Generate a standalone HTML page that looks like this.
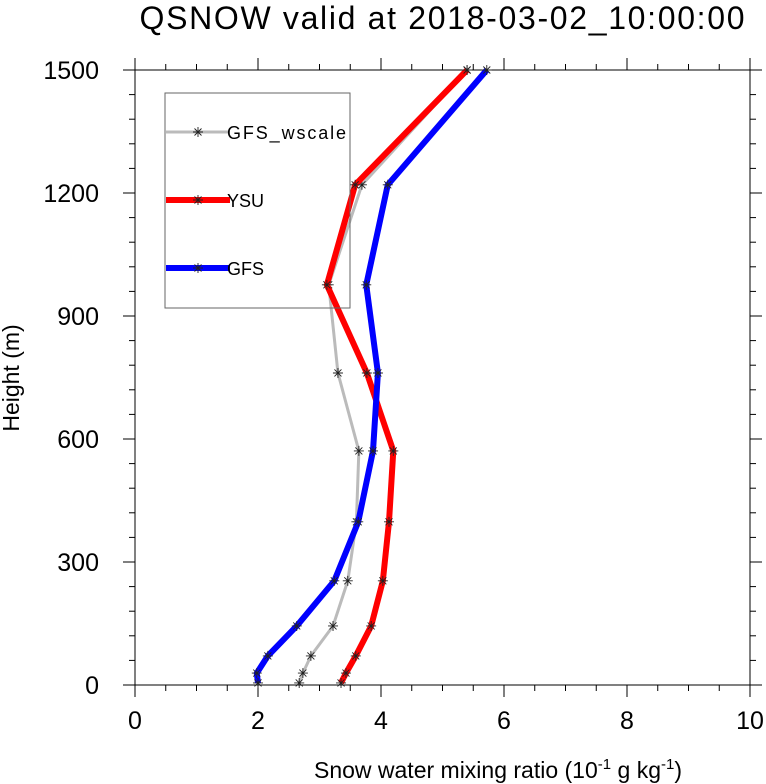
<!DOCTYPE html>
<html><head><meta charset="utf-8"><style>body{margin:0;background:#fff}svg{display:block;font-family:"Liberation Sans",sans-serif}</style></head>
<body>
<svg id="c" width="766" height="784"></svg>
<script>
const heights=[5,29,71,144,254,398,571,761,976,1220,1500];
const gfsWscale=[2.67,2.73,2.86,3.22,3.46,3.60,3.64,3.30,3.15,3.69,5.40];
const ysu=[3.35,3.43,3.59,3.84,4.03,4.13,4.20,3.77,3.12,3.58,5.40];
const gfs=[2.0,1.98,2.16,2.63,3.24,3.63,3.87,3.95,3.76,4.11,5.72];
const xTicks=[0,2,4,6,8,10];
const yTicks=[0,300,600,900,1200,1500];
const NS="http://www.w3.org/2000/svg",svg=document.getElementById('c');
const X0=135,X1=750,Y0=685,Y1=70;
const sx=v=>X0+(X1-X0)*v/10, sy=v=>Y0-(Y0-Y1)*v/1500;
function el(t,a,p){const e=document.createElementNS(NS,t);for(const k in a)e.setAttribute(k,a[k]);(p||svg).appendChild(e);return e;}
const frame=el('rect',{x:X0,y:Y1,width:X1-X0,height:Y0-Y1,fill:'none',stroke:'#000','stroke-width':1});


for(let v=0;v<=10.001;v+=0.5){const maj=Math.abs(v%2)<1e-6,L=maj?12:6,x=sx(v);
el('line',{x1:x,y1:Y0,x2:x,y2:Y0+L,stroke:'#000'});el('line',{x1:x,y1:Y1,x2:x,y2:Y1-L,stroke:'#000'});}
for(let v=0;v<=1500;v+=60){const maj=v%300===0,L=maj?12:6,y=sy(v);
el('line',{x1:X0,y1:y,x2:X0-L,y2:y,stroke:'#000'});el('line',{x1:X1,y1:y,x2:X1+L,y2:y,stroke:'#000'});}
xTicks.forEach(v=>{const t=el('text',{x:sx(v),y:729,'font-size':25,'text-anchor':'middle'});t.textContent=v;

});
yTicks.forEach(v=>{const t=el('text',{x:99,y:sy(v)+9,'font-size':25,'text-anchor':'end'});t.textContent=v;

});
function star(g,x,y){const r=5;el('path',{d:`M${x-r},${y}H${x+r}M${x},${y-r}V${y+r}M${x-3.5},${y-3.5}L${x+3.5},${y+3.5}M${x-3.5},${y+3.5}L${x+3.5},${y-3.5}`,stroke:'#222','stroke-width':0.9,fill:'none'},g);}
function series(vals,color,w,name){const g=el('g',{});

el('polyline',{points:vals.map((v,i)=>sx(v)+','+sy(heights[i])).join(' '),fill:'none',stroke:color,'stroke-width':w,'stroke-linejoin':'round'},g);
vals.forEach((v,i)=>star(g,sx(v),sy(heights[i])));}
series(gfsWscale,'#bbb',3,'gfs-wscale-line');
series(ysu,'#f00',6,'ysu-line');
series(gfs,'#00f',6,'gfs-line');
const lg=el('g',{});

el('rect',{x:165,y:93,width:185,height:215,fill:'none',stroke:'#666'},lg);
[['GFS_wscale','#bbb',3,132],['YSU','#f00',6,200],['GFS','#00f',6,268]].forEach(([n,c,w,y])=>{
el('line',{x1:166,y1:y,x2:230,y2:y,stroke:c,'stroke-width':w},lg);star(lg,198,y);
const t=el('text',{x:227,y:y+7,'font-size':18,textLength:n.length>5?119:(n.length>3?0:41)},lg);if(n.length<=3)t.removeAttribute('textLength');t.textContent=n;});
let t=el('text',{x:442,y:29,'font-size':32,'text-anchor':'middle',textLength:605});t.textContent='QSNOW valid at 2018-03-02_10:00:00';


t=el('text',{x:0,y:0,'font-size':23,'text-anchor':'middle',transform:'translate(19,378) rotate(-90)'});t.textContent='Height (m)';


t=el('text',{x:498,y:778,'font-size':23,'text-anchor':'middle'});


t.innerHTML='Snow water mixing ratio (10<tspan dy="-9" font-size="15">-1</tspan><tspan dy="9"> g kg</tspan><tspan dy="-9" font-size="15">-1</tspan><tspan dy="9">)</tspan>';
</script>
</body></html>
